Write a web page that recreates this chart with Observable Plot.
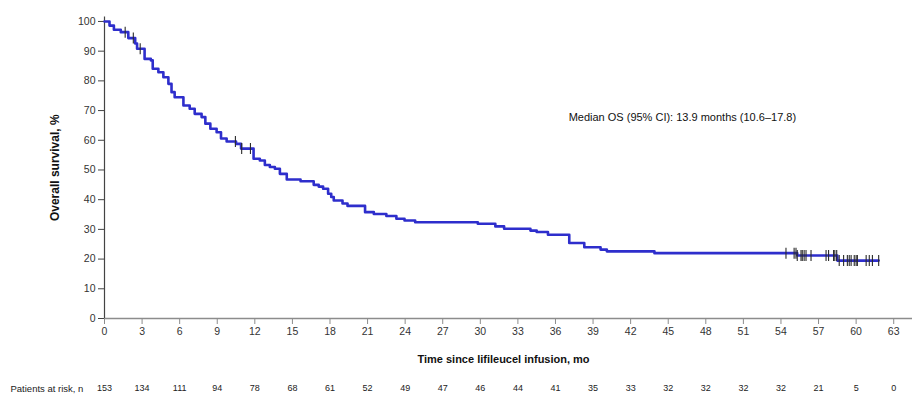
<!DOCTYPE html>
<html>
<head>
<meta charset="utf-8">
<script src="https://cdn.jsdelivr.net/npm/d3@7"></script>
<script src="https://cdn.jsdelivr.net/npm/@observablehq/plot@0.6"></script>
<style>
  html, body { margin: 0; padding: 0; background: #fff; }
  #chart { width: 918px; height: 404px; }
  svg { font-family: "Liberation Sans", Arial, sans-serif; }
</style>
</head>
<body>
<div id="chart"></div>
<script>
// Kaplan–Meier step times (months) and survival (%) after each step
const stepTimes = [0, 0.4, 0.75, 1.3, 1.9, 2.45, 2.6, 3.2, 3.7, 3.85, 4.3, 4.7, 5.1, 5.35, 5.6, 6.3, 6.8, 7.2, 7.75, 8.05, 8.45, 8.95, 9.3, 9.75, 10.5, 10.9, 11.9, 12.4, 12.8, 13.2, 13.6, 14.0, 14.55, 15.65, 16.7, 17.1, 17.45, 17.85, 18.1, 18.3, 19.0, 19.4, 20.8, 21.5, 22.5, 23.3, 23.95, 24.8, 29.8, 31.2, 31.9, 34.0, 34.5, 35.4, 37.1, 38.3, 39.6, 40.1, 43.9, 55.3, 58.5, 61.8];
const stepSurv  = [100, 98.6, 97.2, 96.4, 94.4, 92.6, 90.8, 87.4, 86.9, 84.1, 82.9, 81.2, 79.0, 76.2, 74.5, 71.7, 70.6, 68.9, 67.8, 65.6, 63.9, 62.7, 60.6, 59.6, 58.8, 57.2, 53.8, 53.2, 51.7, 51.0, 50.4, 48.7, 46.8, 46.2, 45.0, 44.4, 43.7, 42.0, 40.9, 39.7, 38.7, 37.9, 35.8, 35.2, 34.5, 33.6, 33.0, 32.4, 31.9, 31.0, 30.2, 29.6, 29.1, 28.2, 25.4, 24.0, 23.2, 22.6, 22.0, 21.2, 19.5, 19.5];

// Censoring times (months)
const censorTimes = [1.65, 2.3, 2.85, 10.45, 10.95, 11.65, 54.4, 55.05, 55.2, 55.3, 55.6, 55.7, 55.85, 56.0, 56.4, 57.6, 57.8, 58.2, 58.3, 58.45, 58.65, 59.0, 59.3, 59.45, 59.6, 59.85, 60.0, 60.1, 60.8, 61.05, 61.3, 61.8];

// Axis ticks
const xTicks = [0, 3, 6, 9, 12, 15, 18, 21, 24, 27, 30, 33, 36, 39, 42, 45, 48, 51, 54, 57, 60, 63];
const yTicks = [0, 10, 20, 30, 40, 50, 60, 70, 80, 90, 100];

// Patients at risk
const riskTimes  = [0, 3, 6, 9, 12, 15, 18, 21, 24, 27, 30, 33, 36, 39, 42, 45, 48, 51, 54, 57, 60, 63];
const riskCounts = [153, 134, 111, 94, 78, 68, 61, 52, 49, 47, 46, 44, 41, 35, 33, 32, 32, 32, 32, 21, 5, 0];

// Annotation
const medianText = ["Median OS (95% CI): 13.9 months (10.6\u201317.8)"];
const medianPos = {x: 37.05, y: 67.6};

const kmData = stepTimes.map((t, i) => ({t, s: stepSurv[i]}));
function survAt(t) {
  let s = stepSurv[0];
  for (let i = 0; i < stepTimes.length; i++) if (stepTimes[i] <= t) s = stepSurv[i];
  return s;
}
const censorData = censorTimes.map(t => ({t, s: survAt(t)}));

const vbar = {
  draw(context, size) {
    const r = Math.sqrt(size / Math.PI);
    context.moveTo(0, -r);
    context.lineTo(0, r);
  }
};

const chart = Plot.plot({
  width: 918,
  height: 404,
  marginLeft: 104,
  marginRight: 6,
  marginTop: 16.5,
  marginBottom: 86,
  style: {fontFamily: "'Liberation Sans', Arial, sans-serif", background: "#fff"},
  x: {domain: [0, 64.5]},
  y: {domain: [0, 101.5]},
  marks: [
    Plot.ruleY([0], {stroke: "#8c8c8c", strokeWidth: 1.5}),
    Plot.ruleX([0], {stroke: "#444", strokeWidth: 1.2}),
    Plot.axisX({ticks: xTicks, tickSize: 6, tickPadding: 3, fontSize: 10.5, stroke: "#8c8c8c", color: "#333", label: null}),
    Plot.axisY({ticks: yTicks, tickSize: 6, tickPadding: 3, fontSize: 10.5, stroke: "#444", color: "#333", label: null}),
    Plot.line(kmData, {x: "t", y: "s", curve: "step-after", stroke: "#2e2ecc", strokeWidth: 2.6}),
    Plot.dot(censorData, {x: "t", y: "s", symbol: vbar, r: 5.5, stroke: "#2a2a2a", strokeWidth: 1.1, fill: "none"}),
    Plot.text(medianText, {x: () => medianPos.x, y: () => medianPos.y, text: d => d, textAnchor: "start", fontSize: 11, fill: "#111"}),
    Plot.text(["Overall survival, %"], {frameAnchor: "left", textAnchor: "middle", rotate: -90, dx: -49, fontWeight: "bold", fontSize: 12, fill: "#111"}),
    Plot.text(["Time since lifileucel infusion, mo"], {frameAnchor: "bottom", textAnchor: "middle", lineAnchor: "middle", dy: 41, dx: -5, fontWeight: "bold", fontSize: 11, fill: "#111"}),
    Plot.text(riskCounts, {x: riskTimes, text: d => d, frameAnchor: "bottom", textAnchor: "middle", lineAnchor: "middle", dy: 70, fontSize: 9, fill: "#222"}),
    Plot.text(["Patients at risk, n"], {frameAnchor: "bottom-left", lineAnchor: "middle", textAnchor: "start", dx: -94, dy: 70, fontSize: 9.5, fill: "#222"})
  ]
});
document.getElementById("chart").appendChild(chart);
</script>
</body>
</html>
